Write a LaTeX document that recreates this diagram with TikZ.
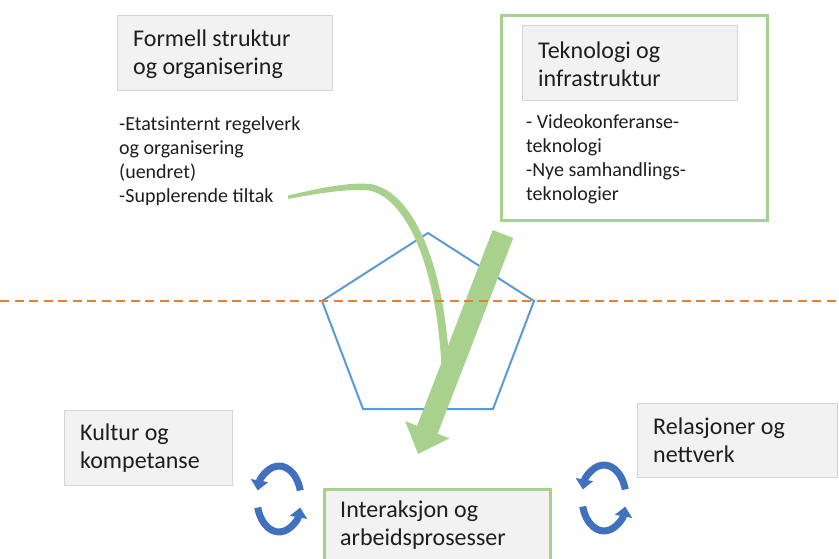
\documentclass[tikz,border=0pt]{standalone}
\usepackage{fontspec}
\setmainfont{Carlito}
\usetikzlibrary{arrows.meta}
\definecolor{boxgray}{HTML}{F2F2F2}
\definecolor{boxline}{HTML}{D4D4D4}
\definecolor{leaf}{HTML}{A9D18E}
\definecolor{penta}{HTML}{5B9BD5}
\definecolor{cutline}{HTML}{ED7D31}
\definecolor{cycleblue}{HTML}{4170BE}
\definecolor{ink}{HTML}{1E1E1E}

\begin{document}
\begin{tikzpicture}[x=1pt,y=-1pt,
  panel/.style={rectangle, draw=boxline, fill=boxgray, line width=0.8pt,
                inner sep=0pt, anchor=north west},
  frame/.style={rectangle, draw=leaf, line width=3pt, inner sep=0pt,
                anchor=north west},
  % text blocks are placed by the baseline of their last line
  title/.style={font=\fontsize{24}{28}\selectfont, align=left, inner sep=0pt,
                anchor=base west, text=ink},
  items/.style={font=\fontsize{20}{24.3}\selectfont, align=left, inner sep=0pt,
                anchor=base west, text=ink},
  cyc/.style={draw=cycleblue, line width=7pt,
              -{Triangle[length=10pt,width=17pt]}},
]
\useasboundingbox (0,0) rectangle (839,559);

% upper left: formal structure
\node[panel, minimum width=215pt, minimum height=75pt] (formbox) at (117,15) {};
\node[title] (formtxt) at (133,75) {Formell struktur\\og organisering};
\node[items] (formlist) at (119,203)
  {-Etatsinternt regelverk\\og organisering\\(uendret)\\-Supplerende tiltak};

% upper right: technology
\node[frame, fill=white, minimum width=266pt, minimum height=205pt] (techframe) at (500,14) {};
\node[panel, minimum width=215pt, minimum height=75pt] (techbox) at (522,25) {};
\node[title] (techtxt) at (538,87) {Teknologi og\\infrastruktur};
\node[items] (techlist) at (526,201)
  {- Videokonferanse-\\teknologi\\-Nye samhandlings-\\teknologier};

% lower boxes
\node[panel, minimum width=168pt, minimum height=75pt] (kulbox) at (64,410) {};
\node[title] (kultxt) at (80,468) {Kultur og\\kompetanse};
\node[panel, minimum width=200pt, minimum height=74pt] (relbox) at (637,403) {};
\node[title] (reltxt) at (653,462) {Relasjoner og\\nettverk};
\node[frame, fill=boxgray, minimum width=226pt, minimum height=95pt] (intbox) at (323,488) {};
\node[title] (inttxt) at (340,545) {Interaksjon og\\arbeidsprosesser};

% pentagon
\coordinate (pT) at (428,233);
\coordinate (pR) at (534,301);
\coordinate (pBR) at (493,409);
\coordinate (pBL) at (363,409);
\coordinate (pL) at (322,301);
\draw[penta, line width=2pt, line join=miter] (pT) -- (pR) -- (pBR) -- (pBL) -- (pL) -- cycle;

% curved tapered band from the list
\fill[leaf] (288,195.5) .. controls (330,185.5) and (352,182.5) .. (370,184)
  .. controls (410,190) and (446,258) .. (450,378) -- (442,378)
  .. controls (438,262) and (404,197) .. (369,190.5)
  .. controls (352,189) and (330,191) .. (288,199) -- cycle;

% straight broad arrow
\coordinate (push) at (503,234);
\coordinate (land) at (418,454);
\draw[leaf, line width=22pt, -{Triangle[length=26pt,width=46pt]}] (push) -- (land);

% dashed separation line
\coordinate (cutL) at (0,301);
\coordinate (cutR) at (839,301);
\draw[cutline, line width=2.5pt, dash pattern=on 9pt off 5.5pt] (cutL) -- (cutR);

% cycle icons
\coordinate (cycL) at (279,499);
\coordinate (cycR) at (604,498);
\foreach \c in {cycL,cycR}{
  \draw[cyc] (\c) ++(-15:22 and 33) arc[start angle=-15, end angle=-165, x radius=22, y radius=33];
  \draw[cyc] (\c) ++(165:22 and 33) arc[start angle=165, end angle=15, x radius=22, y radius=33];
}
\end{tikzpicture}
\end{document}
